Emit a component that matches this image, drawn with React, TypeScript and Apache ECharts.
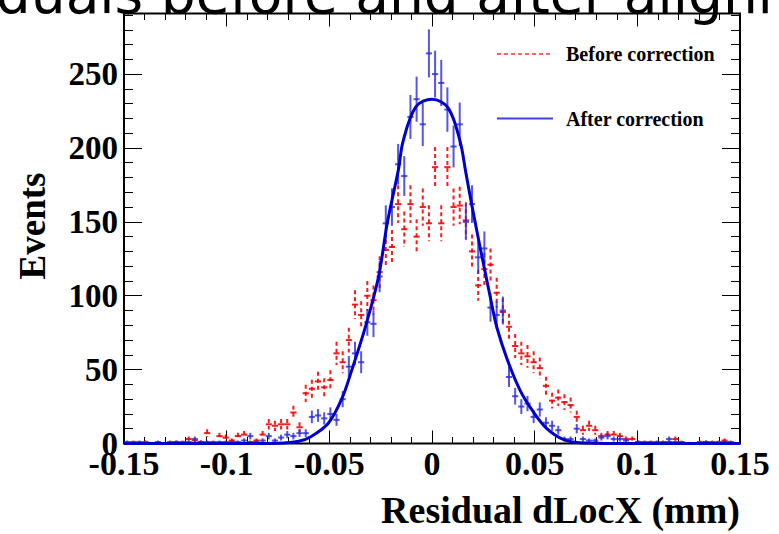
import React, { useEffect, useRef } from "react";
import * as echarts from "echarts";

// Histogram: 100 bins from -0.15 to 0.15 mm
const binLow = -0.15;
const binWidth = 0.003;

const beforeCounts = [
  0, 1, 0, 1, 0, 0, 0, 1, 1, 1,
  3, 2, 1, 7, 1, 5, 4, 2, 5, 6,
  1, 2, 6, 13, 12, 13, 13, 21, 11, 34,
  37, 42, 38, 43, 61, 55, 70, 94, 87, 100,
  97, 116, 131, 133, 162, 145, 162, 140, 160, 149,
  187, 149, 187, 160, 161, 151, 130, 107, 118, 121,
  102, 89, 79, 66, 61, 59, 55, 51, 39, 29,
  31, 28, 26, 18, 9, 12, 9, 5, 6, 6,
  5, 3, 3, 1, 1, 1, 0, 1, 1, 3,
  1, 0, 0, 1, 1, 1, 1, 2, 1, 0,
];

const afterCounts = [
  1, 0, 1, 0, 0, 1, 0, 0, 1, 0,
  1, 3, 1, 1, 0, 1, 1, 1, 1, 2,
  5, 1, 2, 5, 2, 4, 6, 5, 7, 7,
  18, 19, 17, 20, 16, 30, 52, 61, 55, 82,
  81, 113, 149, 160, 189, 181, 221, 233, 216, 264,
  250, 244, 226, 201, 216, 150, 162, 126, 132, 92,
  87, 90, 45, 32, 25, 27, 18, 23, 14, 12,
  9, 3, 3, 10, 3, 2, 2, 4, 5, 3,
  3, 2, 0, 1, 0, 0, 1, 0, 3, 1,
  0, 0, 0, 0, 1, 0, 0, 1, 0, 0,
];

// Gaussian fit curve
const fitX = [-0.15, -0.09, -0.075, -0.065, -0.059, -0.0505, -0.044, -0.039, -0.032, -0.026, -0.0218, -0.0164, -0.014, -0.0078, 0, 0.0079, 0.0136, 0.0164, 0.0193, 0.0234, 0.0284, 0.0315, 0.0366, 0.0429, 0.0493, 0.0558, 0.0639, 0.072, 0.09, 0.15];
const fitY = [0, 0, 0.2, 1.5, 4.6, 13.7, 30, 50, 81, 113, 149, 185, 205, 228, 233, 227, 205, 184, 162, 133, 99, 79, 57, 36, 21.5, 10.3, 2.8, 0.5, 0, 0];

const xMajorTicks = [-0.15, -0.1, -0.05, 0, 0.05, 0.1, 0.15];
const yMajorTicks = [0, 50, 100, 150, 200, 250];

const titleText = "Residuals before and after alignment";
const xTitle = "Residual dLocX (mm)";
const yTitle = "Events";
const legendNames = ["Before correction", "After correction"];

export default function App() {
  const ref = useRef<HTMLDivElement>(null);
  useEffect(() => {
    if (!ref.current) return;
    const chart = echarts.init(ref.current, null, { renderer: "svg" });

    const xMinor: number[] = [];
    for (let k = -15; k <= 15; k++) if (k % 5 !== 0) xMinor.push(k / 100);
    const yMinor: number[] = [];
    for (let k = 1; k <= 29; k++) if (k % 5 !== 0) yMinor.push(k * 10);

    const centers = beforeCounts.map((_, i) => +(binLow + binWidth * (i + 0.5)).toFixed(5));
    const beforeData = beforeCounts.map((v, i) => [centers[i], v]);
    const afterData = afterCounts.map((v, i) => [centers[i], v]);
    const fitData = fitX.map((x, i) => [x, fitY[i]]);

    const font = "'Liberation Serif', 'Times New Roman', serif";
    const X_MIN = -0.15, X_MAX = 0.15, Y_MIN = 0, Y_MAX = 291;

    const makeX = (pos: "top" | "bottom", ticks: number[], len: number, labels: boolean) => ({
      type: "value",
      min: X_MIN,
      max: X_MAX,
      position: pos,
      axisLine: { show: false, onZero: false },
      splitLine: { show: false },
      axisTick: { show: true, inside: true, length: len, customValues: ticks, lineStyle: { color: "#000", width: 1 } },
      axisLabel: labels
        ? {
            show: true,
            customValues: ticks,
            margin: 3,
            color: "#000",
            fontFamily: font,
            fontWeight: "bold",
            fontSize: 34,
            formatter: (v: number) => String(Number(v.toFixed(4))),
          }
        : { show: false },
    });
    const makeY = (pos: "left" | "right", ticks: number[], len: number, labels: boolean) => ({
      type: "value",
      min: Y_MIN,
      max: Y_MAX,
      position: pos,
      axisLine: { show: false, onZero: false },
      splitLine: { show: false },
      axisTick: { show: true, inside: true, length: len, customValues: ticks, lineStyle: { color: "#000", width: 1 } },
      axisLabel: labels
        ? {
            show: true,
            customValues: ticks,
            margin: 6,
            color: "#000",
            fontFamily: font,
            fontWeight: "bold",
            fontSize: 33,
          }
        : { show: false },
    });

    const half = binWidth / 2;
    const makeRender = (color: string, dash: number[] | null, opacity: number) => (params: any, api: any) => {
      const x = api.value(0);
      const y = api.value(1);
      const err = Math.sqrt(y);
      const pL = api.coord([x - half, y]);
      const pR = api.coord([x + half, y]);
      const pT = api.coord([x, Math.min(Y_MAX, y + err)]);
      const pB = api.coord([x, Math.max(0, y - err)]);
      return {
        type: "group",
        children: [
          {
            type: "line",
            shape: { x1: pL[0], y1: pL[1], x2: pR[0], y2: pR[1] },
            style: { stroke: color, lineWidth: 2, fill: "none", opacity },
          },
          {
            type: "line",
            shape: { x1: pT[0], y1: pT[1], x2: pB[0], y2: pB[1] },
            style: { stroke: color, lineWidth: 2, fill: "none", opacity, lineDash: dash || undefined },
          },
        ],
      };
    };

    chart.setOption({
      animation: false,
      backgroundColor: "#fff",
      grid: {
        left: 124,
        right: 39,
        top: 13.5,
        bottom: 90.5,
        show: true,
        borderColor: "#000",
        borderWidth: 2,
        backgroundColor: "transparent",
      },
      xAxis: [
        makeX("bottom", xMajorTicks, 13, true),
        makeX("bottom", xMinor, 6.5, false),
        makeX("top", xMajorTicks, 13, false),
        makeX("top", xMinor, 6.5, false),
      ],
      yAxis: [
        makeY("left", yMajorTicks, 18, true),
        makeY("left", yMinor, 9, false),
        makeY("right", yMajorTicks, 18, false),
        makeY("right", yMinor, 9, false),
      ],
      series: [
        {
          name: legendNames[0],
          type: "custom",
          xAxisIndex: 0,
          yAxisIndex: 0,
          data: beforeData,
          encode: { x: 0, y: 1 },
          renderItem: makeRender("#ff0000", [4, 3], 0.9),
          z: 3,
        },
        {
          name: legendNames[1],
          type: "custom",
          xAxisIndex: 0,
          yAxisIndex: 0,
          data: afterData,
          encode: { x: 0, y: 1 },
          renderItem: makeRender("#2a2ae0", null, 0.8),
          z: 4,
        },
        {
          name: "fit",
          type: "line",
          xAxisIndex: 0,
          yAxisIndex: 0,
          data: fitData,
          showSymbol: false,
          smooth: 0.35,
          lineStyle: { color: "#0000c8", width: 3 },
          z: 5,
        },
      ],
      graphic: [
        {
          type: "text",
          x: 392,
          y: -6,
          z: 100,
          style: {
            text: titleText,
            fill: "#000",
            font: "55px 'DejaVu Sans', sans-serif",
            textAlign: "center",
            textVerticalAlign: "middle",
          },
        },
        {
          type: "line",
          shape: { x1: 497, y1: 54, x2: 553, y2: 54 },
          style: { stroke: "#ff3030", lineWidth: 1.5, lineDash: [4, 3] },
          z: 100,
        },
        {
          type: "text",
          x: 566,
          y: 54,
          z: 100,
          style: {
            text: legendNames[0],
            fill: "#000",
            font: "bold 20px 'Liberation Serif', serif",
            textAlign: "left",
            textVerticalAlign: "middle",
          },
        },
        {
          type: "line",
          shape: { x1: 497, y1: 118.5, x2: 553, y2: 118.5 },
          style: { stroke: "#4040e0", lineWidth: 2 },
          z: 100,
        },
        {
          type: "text",
          x: 566,
          y: 119,
          z: 100,
          style: {
            text: legendNames[1],
            fill: "#000",
            font: "bold 20px 'Liberation Serif', serif",
            textAlign: "left",
            textVerticalAlign: "middle",
          },
        },
        {
          type: "text",
          x: 740,
          y: 510,
          z: 100,
          style: {
            text: xTitle,
            fill: "#000",
            font: "bold 38px 'Liberation Serif', serif",
            textAlign: "right",
            textVerticalAlign: "middle",
          },
        },
        {
          type: "text",
          x: 32,
          y: 226,
          rotation: Math.PI / 2,
          z: 100,
          style: {
            text: yTitle,
            fill: "#000",
            font: "bold 37px 'Liberation Serif', serif",
            textAlign: "center",
            textVerticalAlign: "middle",
          },
        },
      ],
    });
    return () => chart.dispose();
  }, []);
  return (
    <div
      ref={ref}
      style={{ position: "fixed", left: 0, top: 0, width: 779, height: 534, background: "#fff" }}
    />
  );
}
